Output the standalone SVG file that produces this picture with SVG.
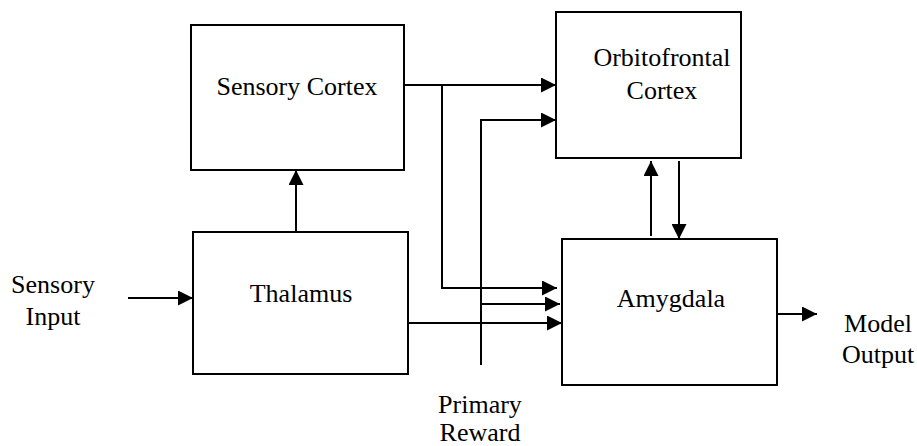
<svg xmlns="http://www.w3.org/2000/svg" width="917" height="446" viewBox="0 0 917 446" font-family="'Liberation Serif', 'DejaVu Serif', serif" font-size="26">
<style>
.box{fill:#fff;stroke:#000;stroke-width:2}
.ln{fill:none;stroke:#000;stroke-width:2}
.ar{marker-end:url(#ah)}
text{fill:#000;text-anchor:middle}
</style>
<defs>
<marker id="ah" viewBox="0 0 10 10" refX="10" refY="5" markerWidth="15" markerHeight="15" markerUnits="userSpaceOnUse" orient="auto">
<path d="M0,0 L10,5 L0,10 z" fill="#000"/>
</marker>
</defs>
<g id="sensory-cortex"><rect class="box" x="191" y="25" width="213" height="145"/><text x="297" y="95">Sensory Cortex</text></g>
<g id="thalamus"><rect class="box" x="193" y="232" width="215" height="142"/><text x="301" y="302">Thalamus</text></g>
<g id="orbitofrontal"><rect class="box" x="556" y="12" width="185" height="146"/><text x="662" y="66">Orbitofrontal</text><text x="662" y="99">Cortex</text></g>
<g id="amygdala"><rect class="box" x="562" y="239" width="215" height="146"/><text x="671" y="307">Amygdala</text></g>
<g id="sensory-input"><text x="53" y="293">Sensory</text><text x="53" y="325">Input</text></g>
<g id="model-output"><text x="878" y="332">Model</text><text x="878" y="363">Output</text></g>
<g id="primary-reward"><text x="480" y="413">Primary</text><text x="480" y="441">Reward</text></g>
<g id="connectors">
<line class="ln ar" x1="128" y1="298" x2="193" y2="298"/>
<line class="ln ar" x1="296" y1="232" x2="296" y2="170"/>
<line class="ln ar" x1="404" y1="85" x2="556" y2="85"/>
<polyline class="ln ar" points="442,85 442,288 557,288"/>
<polyline class="ln ar" points="481,365 481,120 556,120"/>
<line class="ln ar" x1="481" y1="304" x2="560" y2="304"/>
<line class="ln ar" x1="408" y1="323" x2="562" y2="323"/>
<line class="ln ar" x1="651" y1="236" x2="651" y2="161"/>
<line class="ln ar" x1="679" y1="161" x2="679" y2="239"/>
<line class="ln ar" x1="777" y1="314" x2="817" y2="314"/>
</g>
</svg>
